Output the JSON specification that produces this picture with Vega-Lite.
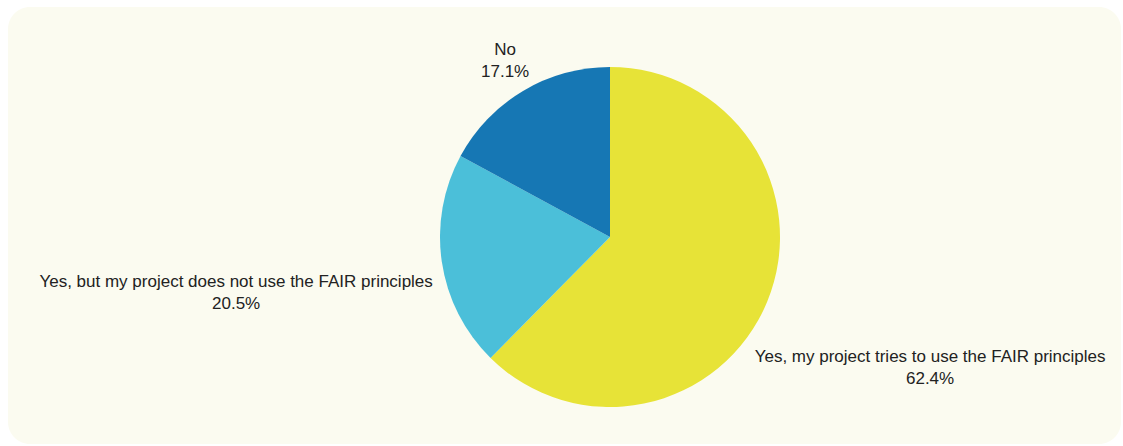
{
  "$schema": "https://vega.github.io/schema/vega-lite/v6.json",
  "width": 1113,
  "height": 437,
  "autosize": {"type": "none"},
  "padding": {"left": 8, "top": 7, "right": 2, "bottom": 2},
  "background": "#ffffff",
  "view": {"fill": "#fbfbf0", "stroke": null, "cornerRadius": 22},
  "data": {
    "values": [
      {"answer": "Yes, my project tries to use the FAIR principles", "pct": 62.4, "order": 1},
      {"answer": "Yes, but my project does not use the FAIR principles", "pct": 20.5, "order": 2},
      {"answer": "No", "pct": 17.1, "order": 3}
    ]
  },
  "transform": [
    {"stack": "pct", "groupby": [], "sort": [{"field": "order"}], "as": ["t0", "t1"]},
    {"calculate": "(datum.t0 + datum.t1) / 2", "as": "mid"},
    {"calculate": "[datum.answer, format(datum.pct, '.1f') + '%']", "as": "lbl"}
  ],
  "layer": [
    {
      "mark": {"type": "arc", "outerRadius": 170, "x": 602, "y": 230},
      "encoding": {
        "theta": {"field": "t0", "type": "quantitative", "scale": {"domain": [0, 100]}},
        "theta2": {"field": "t1"},
        "color": {
          "field": "answer",
          "type": "nominal",
          "scale": {
            "domain": ["Yes, my project tries to use the FAIR principles", "Yes, but my project does not use the FAIR principles", "No"],
            "range": ["#e7e337", "#4bbfd9", "#1677b4"]
          },
          "legend": null
        }
      }
    },
    {
      "transform": [{"filter": "datum.order == 1"}],
      "mark": {"type": "text", "radius": 346, "x": 602, "y": 230, "dy": -11, "align": "center", "baseline": "middle", "font": "Liberation Sans", "fontSize": 17, "lineHeight": 22, "color": "#222222"},
      "encoding": {
        "theta": {"field": "mid", "type": "quantitative", "scale": {"domain": [0, 100]}},
        "text": {"field": "lbl"}
      }
    },
    {
      "transform": [{"filter": "datum.order == 2"}],
      "mark": {"type": "text", "radius": 378, "x": 602, "y": 230, "dy": -11, "align": "center", "baseline": "middle", "font": "Liberation Sans", "fontSize": 17, "lineHeight": 22, "color": "#222222"},
      "encoding": {
        "theta": {"field": "mid", "type": "quantitative", "scale": {"domain": [0, 100]}},
        "text": {"field": "lbl"}
      }
    },
    {
      "transform": [{"filter": "datum.order == 3"}],
      "mark": {"type": "text", "radius": 205, "x": 602, "y": 230, "dy": -11, "align": "center", "baseline": "middle", "font": "Liberation Sans", "fontSize": 17, "lineHeight": 22, "color": "#222222"},
      "encoding": {
        "theta": {"field": "mid", "type": "quantitative", "scale": {"domain": [0, 100]}},
        "text": {"field": "lbl"}
      }
    }
  ]
}
